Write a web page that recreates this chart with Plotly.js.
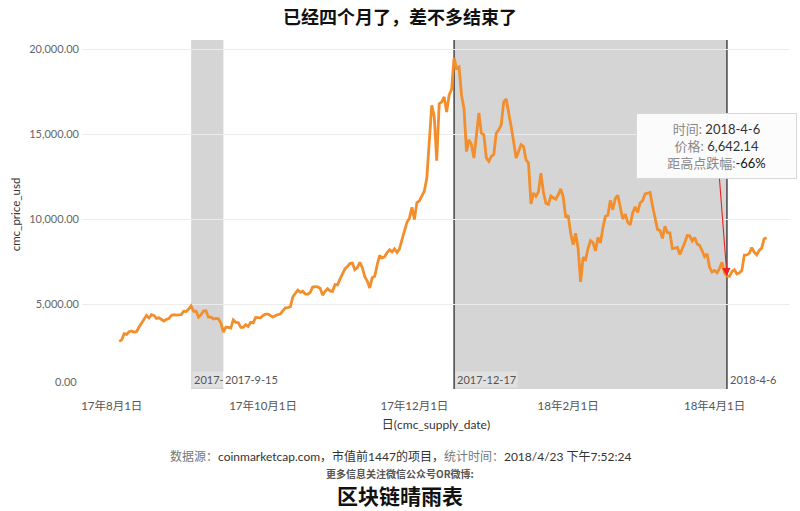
<!DOCTYPE html>
<html>
<head>
<meta charset="utf-8">
<script src="https://cdn.plot.ly/plotly-3.0.1.min.js"></script>
<style>
  html, body { margin: 0; padding: 0; background: #fff; }
  #chart { width: 800px; height: 511px; }
</style>
</head>
<body>
<div id="chart"></div>
<script>
// ---- Data: daily cmc_price_usd (BTC) ----
// Each monthly array starts at the day given in monthStart.
const monthKeys  = ["2017-08", "2017-09", "2017-10", "2017-11", "2017-12", "2018-01", "2018-02", "2018-03", "2018-04"];
const monthStart = [4, 1, 1, 1, 1, 1, 1, 1, 1];

const aug2017 = [2805, 2895, 3252, 3213, 3378, 3419, 3342, 3381, 3650, 3884, 4073, 4325, 4181, 4376, 4331, 4160, 4193, 4087, 4001, 4100, 4151, 4334, 4371, 4352, 4382, 4382, 4579, 4565];
const sep2017 = [4703, 4892, 4579, 4583, 4236, 4376, 4597, 4599, 4229, 4226, 4122, 4161, 4130, 3882, 3350, 3637, 3625, 3583, 4065, 3924, 3906, 3631, 3630, 3792, 3683, 3926, 3892, 4209, 4202, 4193];
const oct2017 = [4335, 4403, 4409, 4317, 4229, 4328, 4370, 4426, 4611, 4773, 4789, 4848, 5430, 5649, 5823, 5688, 5754, 5595, 5572, 5696, 6006, 6031, 6008, 5930, 5526, 5750, 5904, 5780, 5753, 6154, 6130];
const nov2017 = [6468, 6767, 7078, 7207, 7380, 7407, 7022, 7144, 7459, 7143, 6618, 6357, 5950, 6559, 6635, 7315, 7871, 7708, 7790, 8036, 8201, 8071, 8253, 8038, 8253, 8791, 9330, 9819, 10058, 10700];
const dec2017 = [9980, 10975, 11074, 11323, 11657, 12400, 14291, 16700, 16050, 13440, 16800, 16900, 17200, 16300, 17300, 17650, 19497, 18880, 18970, 17300, 16500, 13980, 14670, 14400, 13600, 14770, 16250, 15060, 14960, 13600, 13400];
const jan2018 = [13690, 13800, 15060, 15260, 15550, 16900, 17080, 16330, 15450, 14570, 13600, 13980, 14380, 14280, 13500, 13300, 10900, 11540, 11350, 11607, 12700, 11600, 10931, 10868, 11359, 11259, 11171, 11441, 11787, 11296, 10106];
const feb2018 = [10221, 9170, 8500, 9174, 8277, 6300, 7754, 7621, 8265, 8736, 8621, 8129, 8926, 8598, 9494, 10166, 10233, 11112, 10551, 11225, 11403, 10690, 10005, 10301, 9813, 9664, 10366, 10725];
const mar2018 = [10397, 10951, 11086, 11489, 11512, 11573, 10779, 9965, 9395, 9337, 8866, 9578, 9205, 9194, 8269, 8300, 8338, 7916, 8223, 8630, 9033, 9017, 8713, 8915, 8535, 8449, 8138, 7791, 7954, 7165, 6891];
const apr2018 = [6973, 6844, 7083, 7456, 6853, 6642.14, 6636, 6911, 7023, 6770, 6835, 6968, 7889, 7895, 7986, 8329, 8058, 7902, 8163, 8294, 8845, 8895];
const monthValues = [aug2017, sep2017, oct2017, nov2017, dec2017, jan2018, feb2018, mar2018, apr2018];

// Shaded periods and reference lines
const bandStarts = ["2017-09-02", "2017-12-17"];
const bandEnds   = ["2017-09-15", "2018-04-06"];
const refLines   = ["2017-12-17", "2018-04-06"];
const refLabels  = ["2017-9-2", "2017-9-15", "2017-12-17", "2018-4-6"];
const refLabelDates = ["2017-09-02", "2017-09-15", "2017-12-17", "2018-04-06"];

// Axis ticks
const xTickVals = ["2017-08-01", "2017-10-01", "2017-12-01", "2018-02-01", "2018-04-01"];
const xTickText = ["17年8月1日", "17年10月1日", "17年12月1日", "18年2月1日", "18年4月1日"];
const yTickVals = [5000, 10000, 15000, 20000];

// Callout
const calloutDate = "2018-04-06";
const calloutPrice = 6642.14;
const peakPrice = 19497;

// ---- Build series ----
const dates = [], prices = [];
monthValues.forEach((arr, i) => {
  arr.forEach((v, j) => {
    const d = monthStart[i] + j;
    dates.push(monthKeys[i] + "-" + String(d).padStart(2, "0"));
    prices.push(v);
  });
});

const FONT = "Lato, 'Noto Sans CJK SC', sans-serif";
const CJK = "'Noto Sans CJK SC', Lato, sans-serif";

const trace = {
  x: dates, y: prices, type: "scatter", mode: "lines",
  line: { color: "#f28e2b", width: 2.8 },
  hoverinfo: "x+y"
};

const shapes = [];
bandStarts.forEach((s, i) => {
  shapes.push({ type: "rect", xref: "x", yref: "paper", x0: s, x1: bandEnds[i], y0: 0, y1: 1,
    fillcolor: "#d5d5d5", line: { width: 0 }, layer: "below" });
});
refLines.forEach(d => {
  shapes.push({ type: "line", xref: "x", yref: "paper", x0: d, x1: d, y0: 0, y1: 1,
    line: { color: "#3a3a3a", width: 1.4 }, layer: "below" });
});

// pixel helpers for footer placement (plot area: top 40, bottom 389)
const plotTop = 40, plotBottom = 389, plotLeft = 82, plotRight = 790;
const py = p => (plotBottom - p) / (plotBottom - plotTop);
const px = p => (p - plotLeft) / (plotRight - plotLeft);

const labelBg = ["rgba(255,255,255,0.3)", "#ffffff", "rgba(255,255,255,0.3)", "#ffffff"];
const labelShift = [1, 0, 1, 1];
const annotations = refLabels.map((t, i) => ({
  text: t, x: refLabelDates[i], xref: "x", xanchor: "left", xshift: labelShift[i],
  y: 0, yref: "paper", yanchor: "bottom", yshift: 1, showarrow: false,
  bgcolor: labelBg[i], borderpad: 1,
  font: { family: FONT, size: 11, color: "#555" }
}));

const pct = Math.round((calloutPrice / peakPrice - 1) * 100);
annotations.push({
  x: calloutDate, y: calloutPrice, xref: "x", yref: "y",
  text: '<span style="color:#888">时间:</span> <span style="color:#333">2018-4-6</span><br>' +
        '<span style="color:#888">价格:</span> <span style="color:#333">' + calloutPrice.toLocaleString("en-US", {minimumFractionDigits: 2}) + '</span><br>' +
        '<span style="color:#888">距高点跌幅:</span><span style="color:#111">' + pct + '%</span>',
  showarrow: true, arrowhead: 2, arrowsize: 1.5, arrowwidth: 1.1, arrowcolor: "#ee2020",
  ax: -10, ay: -130, standoff: 0,
  bgcolor: "rgba(252,252,252,0.96)", bordercolor: "#d8d8d8", borderwidth: 1, borderpad: 0,
  width: 159, height: 64, align: "center",
  font: { family: FONT, size: 13, color: "#333" }
});

annotations.push({
  text: "0.00", xref: "paper", x: 0, xanchor: "right", xshift: -3,
  yref: "paper", y: py(381.5), yanchor: "middle", showarrow: false,
  font: { family: FONT, size: 11, color: "#666" }
});

annotations.push({
  text: '<span style="color:#777">数据源：</span><span style="color:#333">coinmarketcap.com，市值前1447的项目，</span><span style="color:#777">统计时间：</span><span style="color:#333">2018/4/23 下午7:52:24</span>',
  xref: "paper", x: px(400), xanchor: "center", yref: "paper", y: py(456.5), yanchor: "middle",
  showarrow: false, font: { family: FONT, size: 12, color: "#333" }
});
annotations.push({
  text: "更多信息关注微信公众号OR微博:",
  xref: "paper", x: px(400), xanchor: "center", yref: "paper", y: py(473), yanchor: "middle",
  showarrow: false, font: { family: CJK, size: 10, color: "#555", weight: 700 }
});
annotations.push({
  text: "区块链晴雨表",
  xref: "paper", x: px(400), xanchor: "center", yref: "paper", y: py(495), yanchor: "middle",
  showarrow: false, font: { family: CJK, size: 21, color: "#111", weight: 700 }
});

const layout = {
  width: 800, height: 511,
  margin: { l: plotLeft, r: 800 - plotRight, t: plotTop, b: 511 - plotBottom, pad: 0 },
  paper_bgcolor: "#fff", plot_bgcolor: "#fff",
  showlegend: false,
  title: {
    text: "已经四个月了，差不多结束了",
    x: 0.5, xref: "container", xanchor: "center",
    y: 1 - 17.5 / 511, yref: "container", yanchor: "middle",
    font: { family: CJK, size: 18, color: "#111", weight: 700 }
  },
  xaxis: {
    type: "date", range: ["2017-07-20", "2018-05-01 10:00"],
    tickvals: xTickVals, ticktext: xTickText,
    showgrid: false, zeroline: false, showline: false, ticks: "",
    ticklabelstandoff: 8,
    tickfont: { family: FONT, size: 11.5, color: "#555" },
    title: { text: "日(cmc_supply_date)", standoff: 10, font: { family: FONT, size: 12, color: "#333" } },
    fixedrange: true
  },
  yaxis: {
    range: [0, 20548],
    tickvals: yTickVals, tickformat: ",.2f",
    showgrid: true, gridcolor: "#ececec", gridwidth: 1,
    zeroline: false, showline: false, ticks: "",
    ticklabelstandoff: 2,
    tickfont: { family: FONT, size: 11, color: "#666" },
    title: { text: "cmc_price_usd", standoff: 6, font: { family: FONT, size: 11.5, color: "#333" } },
    fixedrange: true
  },
  shapes: shapes,
  annotations: annotations
};

Plotly.newPlot("chart", [trace], layout, { displayModeBar: false, staticPlot: true });
</script>
</body>
</html>
